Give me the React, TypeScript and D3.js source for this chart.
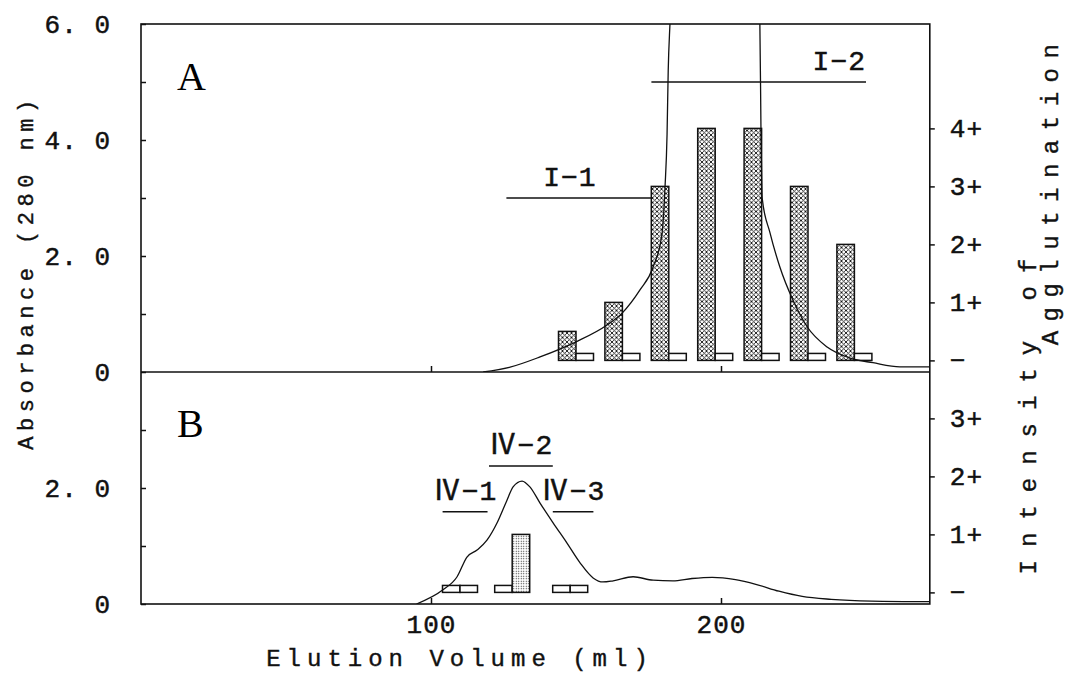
import React, { useEffect, useRef } from "react";
import * as d3 from "d3";

// elution volume (ml) of the fractions tested for agglutination
const fracA = [150, 166, 182, 198, 214, 230, 246];
const aggA1 = [0.5, 1, 3, 4, 4, 3, 2]; // hatched bars
const aggA2 = [0, 0, 0, 0, 0, 0, 0]; // all "−"
const fracB = [110, 128, 148];
const aggB1 = [0, 0, 0];
const aggB2 = [0, 1, 0]; // stippled bar

// absorbance at 280 nm, [ml, A280]
const curveA: [number, number][] = [
  [118, 0], [127, 0.08], [137.6, 0.26], [150, 0.52], [160.7, 0.81], [166, 1.02],
  [172, 1.41], [176.6, 1.81], [179.7, 2.4], [180.7, 3.19], [181.4, 4.1], [181.8, 5.2],
  [182.4, 6.0], [185, 8], [198, 14], [211, 8], [213.4, 6], [213.8, 4.1], [214.2, 3.0],
  [216.9, 2.4], [220.3, 1.81], [224.8, 1.24], [229.7, 0.78], [236.6, 0.43], [244.5, 0.24],
  [252.4, 0.16], [261.7, 0.09], [272, 0.09],
];
const curveB: [number, number][] = [
  [95, 0], [104, 0.24], [109, 0.47], [112.4, 0.81], [115.9, 0.93], [119.3, 1.1],
  [122.8, 1.4], [126.2, 1.79], [128.3, 2.02], [131.4, 2.12], [134.1, 2.02], [137.6, 1.74],
  [142.1, 1.4], [146.9, 1.05], [151.4, 0.71], [155.9, 0.45], [159.3, 0.38], [162.8, 0.4],
  [169.7, 0.47], [176.6, 0.41], [183.4, 0.4], [190, 0.44], [197, 0.46], [205, 0.42],
  [212, 0.34], [220, 0.22], [228, 0.13], [238, 0.08], [252, 0.05], [272, 0.04],
];

// pooled fractions
const poolNamesA = ["I−1", "I−2"];
const poolFromA = [126, 176];
const poolToA = [176, 250];
const poolLevelA = [3.0, 5.0];
const poolNamesB = ["Ⅳ−1", "Ⅳ−2", "Ⅳ−3"];
const poolFromB = [104, 120, 142];
const poolToB = [119.5, 142, 156];
const poolLevelB = [1.59, 2.38, 1.59];

const xTicks = [100, 200];
const absTicksA = [0, 1, 2, 3, 4, 5, 6];
const absTicksB = [0, 1, 2, 3];
const absLabelled = [0, 2, 4, 6];
const aggTicksA = [0, 1, 2, 3, 4];
const aggTicksB = [0, 1, 2, 3];

const MONO = "'Liberation Mono', 'DejaVu Sans Mono', 'Noto Sans CJK JP', monospace";

const App = () => {
  const ref = useRef<SVGSVGElement>(null);

  useEffect(() => {
    if (!ref.current) return;
    const svg = d3.select(ref.current);
    svg.selectAll("*").remove();

    const x = d3.scaleLinear().domain([0, 272]).range([141, 929.8]);
    const yA = d3.scaleLinear().domain([0, 6]).range([372, 24]);
    const yB = d3.scaleLinear().domain([0, 4]).range([604, 372]);
    // agglutination scales, "−" sits a little above the baseline
    const iA = d3.scaleLinear().domain([-0.2, 5.8]).range([372, 24]);
    const iB = d3.scaleLinear().domain([-0.2, 3.8]).range([604, 372]);

    const defs = svg.append("defs");
    const hatch = defs
      .append("pattern")
      .attr("id", "hatch")
      .attr("width", 4.5)
      .attr("height", 4.5)
      .attr("patternUnits", "userSpaceOnUse");
    hatch.append("rect").attr("width", 4.5).attr("height", 4.5).attr("fill", "#fff");
    hatch
      .append("path")
      .attr("d", "M0,0L4.5,4.5M4.5,0L0,4.5")
      .attr("stroke", "#111")
      .attr("stroke-width", 0.9);
    const dots = defs
      .append("pattern")
      .attr("id", "dots")
      .attr("width", 2.5)
      .attr("height", 2.5)
      .attr("patternUnits", "userSpaceOnUse");
    dots.append("rect").attr("width", 2.5).attr("height", 2.5).attr("fill", "#fff");
    dots.append("circle").attr("cx", 1.25).attr("cy", 1.25).attr("r", 0.6).attr("fill", "#222");

    defs
      .append("clipPath")
      .attr("id", "clipA")
      .append("rect")
      .attr("x", 141)
      .attr("y", 24)
      .attr("width", 789)
      .attr("height", 348);
    defs
      .append("clipPath")
      .attr("id", "clipB")
      .append("rect")
      .attr("x", 141)
      .attr("y", 372)
      .attr("width", 789)
      .attr("height", 232);

    // frame
    svg
      .append("rect")
      .attr("x", 141)
      .attr("y", 24)
      .attr("width", 788.8)
      .attr("height", 580)
      .attr("fill", "none")
      .attr("stroke", "#111")
      .attr("stroke-width", 1.6);
    svg
      .append("line")
      .attr("x1", 141)
      .attr("x2", 929.8)
      .attr("y1", 372)
      .attr("y2", 372)
      .attr("stroke", "#111")
      .attr("stroke-width", 1.6);

    // bars
    const barW = 17.5;
    const drawBars = (
      fracs: number[],
      v1: number[],
      v2: number[],
      sc: d3.ScaleLinear<number, number>,
      fill: string
    ) => {
      fracs.forEach((f, i) => {
        [v1[i], v2[i]].forEach((v, j) => {
          const x0 = x(f) - barW + j * barW;
          const top = v > 0 ? sc(v) : sc(0.12);
          svg
            .append("rect")
            .attr("x", x0)
            .attr("y", top)
            .attr("width", barW)
            .attr("height", sc(0) - top)
            .attr("fill", v > 0 ? fill : "#fff")
            .attr("stroke", "#111")
            .attr("stroke-width", 1.5);
        });
      });
    };
    drawBars(fracA, aggA1, aggA2, iA, "url(#hatch)");
    drawBars(fracB, aggB1, aggB2, iB, "url(#dots)");

    // absorbance curves
    const lineA = d3
      .line<[number, number]>()
      .x((d) => x(d[0]))
      .y((d) => yA(d[1]))
      .curve(d3.curveMonotoneX);
    const lineB = d3
      .line<[number, number]>()
      .x((d) => x(d[0]))
      .y((d) => yB(d[1]))
      .curve(d3.curveMonotoneX);
    svg
      .append("path")
      .datum(curveA)
      .attr("clip-path", "url(#clipA)")
      .attr("d", lineA)
      .attr("fill", "none")
      .attr("stroke", "#111")
      .attr("stroke-width", 1.3);
    svg
      .append("path")
      .datum(curveB)
      .attr("clip-path", "url(#clipB)")
      .attr("d", lineB)
      .attr("fill", "none")
      .attr("stroke", "#111")
      .attr("stroke-width", 1.3);

    // pool markers
    const drawPools = (
      names: string[],
      from: number[],
      to: number[],
      level: number[],
      sc: d3.ScaleLinear<number, number>
    ) => {
      names.forEach((n, i) => {
        const yy = sc(level[i]);
        svg
          .append("line")
          .attr("x1", x(from[i]))
          .attr("x2", x(to[i]))
          .attr("y1", yy)
          .attr("y2", yy)
          .attr("stroke", "#111")
          .attr("stroke-width", 1.6);
        const endAnchor = n === "I−2";
        svg
          .append("text")
          .attr("x", endAnchor ? x(to[i]) : (x(from[i]) + x(to[i])) / 2 - (n === "I−1" ? 9 : 0))
          .attr("y", yy - 12)
          .attr("text-anchor", endAnchor ? "end" : "middle")
          .attr("font-family", MONO)
          .attr("font-size", 28)
          .attr("stroke", "#111")
          .attr("stroke-width", 0.5)
          .style("letter-spacing", "1px")
          .attr("fill", "#111")
          .text(n);
      });
    };
    drawPools(poolNamesA, poolFromA, poolToA, poolLevelA, yA);
    drawPools(poolNamesB, poolFromB, poolToB, poolLevelB, yB);

    // axes
    const absFmt = (d: number) =>
      absLabelled.includes(d) ? (d === 0 ? "0" : d3.format(".1f")(d).replace(".", ". ")) : "";
    const styleAxis = (g: d3.Selection<SVGGElement, unknown, null, undefined>) => {
      g.attr("font-family", MONO).attr("font-size", 26);
      g.select(".domain").remove();
      g.selectAll("line").attr("stroke", "#111").attr("stroke-width", 1.5);
      g.selectAll("text")
        .attr("fill", "#111")
        .attr("stroke", "#111")
        .attr("stroke-width", 0.5)
        .style("letter-spacing", "1px");
    };

    svg
      .append("g")
      .attr("transform", "translate(141,0)")
      .call(
        d3.axisLeft(yA).tickValues(absTicksA).tickSize(-5).tickPadding(30).tickFormat((d) => absFmt(+d))
      )
      .call(styleAxis);
    svg
      .append("g")
      .attr("transform", "translate(141,0)")
      .call(
        d3.axisLeft(yB).tickValues(absTicksB).tickSize(-5).tickPadding(30).tickFormat((d) => absFmt(+d))
      )
      .call(styleAxis);

    const aggFmt = (d: number) => (d === 0 ? "−" : `${d}+`);
    svg
      .append("g")
      .attr("transform", "translate(929.8,0)")
      .call(d3.axisRight(iA).tickValues(aggTicksA).tickSize(5).tickPadding(15).tickFormat((d) => aggFmt(+d)))
      .call(styleAxis);
    svg
      .append("g")
      .attr("transform", "translate(929.8,0)")
      .call(d3.axisRight(iB).tickValues(aggTicksB).tickSize(5).tickPadding(15).tickFormat((d) => aggFmt(+d)))
      .call(styleAxis);

    svg
      .append("g")
      .attr("transform", "translate(0,372)")
      .call(d3.axisBottom(x).tickValues(xTicks).tickSize(-6).tickFormat(() => ""))
      .call(styleAxis);
    svg
      .append("g")
      .attr("transform", "translate(0,604)")
      .call(d3.axisBottom(x).tickValues(xTicks).tickSize(-6).tickPadding(11).tickFormat((d) => `${d}`))
      .call(styleAxis);

    // panel letters
    svg
      .append("text")
      .attr("x", 177)
      .attr("y", 90)
      .attr("font-family", "'Liberation Serif', serif")
      .attr("font-size", 40)
      .text("A");
    svg
      .append("text")
      .attr("x", 177)
      .attr("y", 437)
      .attr("font-family", "'Liberation Serif', serif")
      .attr("font-size", 40)
      .text("B");

    // axis titles
    const title = (txt: string, tx: number, ty: number, rot: number, size: number, sp: number) =>
      svg
        .append("text")
        .attr("transform", `translate(${tx},${ty}) rotate(${rot})`)
        .attr("text-anchor", "middle")
        .attr("font-family", MONO)
        .attr("font-size", size)
        .attr("stroke", "#111")
        .attr("stroke-width", 0.4)
        .style("letter-spacing", `${sp}px`)
        .attr("fill", "#111")
        .text(txt);
    title("Elution Volume (ml)", 460, 666, 0, 24, 6);
    title("Absorbance (280 nm)", 33, 272, -90, 22, 5.5);
    title("Agglutination", 1058, 190, -90, 24, 9.5);
    title("Intensity of", 1036, 410, -90, 24, 13);
  }, []);

  return (
    <svg
      ref={ref}
      width={1070}
      height={686}
      style={{ position: "absolute", left: 0, top: 0, background: "#fff" }}
    />
  );
};

export default App;
